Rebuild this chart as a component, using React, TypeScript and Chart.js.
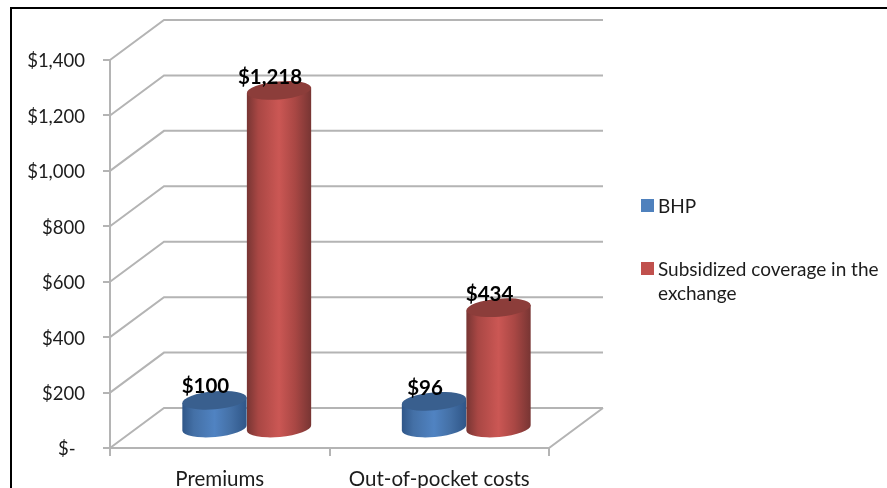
import React, { useEffect, useRef } from "react";
import { Chart, registerables } from "chart.js";

Chart.register(...registerables);

const categories = ["Premiums", "Out-of-pocket costs"];
const bhpValues = [100, 96];
const subsidizedValues = [1218, 434];
const seriesNames = ["BHP", "Subsidized coverage in the exchange"];
const legendLines = [["BHP"], ["Subsidized coverage in the", "exchange"]];
const valueLabels = [["$100", "$96"], ["$1,218", "$434"]];
const yTickLabels: Record<number, string> = {
  0: "$-\u00a0\u00a0",
  200: "$200",
  400: "$400",
  600: "$600",
  800: "$800",
  1000: "$1,000",
  1200: "$1,200",
  1400: "$1,400",
};

const DEPTH_X = 54;
const DEPTH_Y = 40;
const GRID = "#b4b4b4";
const FONT = "Lato, Carlito, sans-serif";
const palette = [
  { edge: "#2f5688", inner: "#4470a6", mid: "#5083c2", top: "#395f8e", swatch: "#4f81bd" },
  { edge: "#773533", inner: "#a94744", mid: "#cb5754", top: "#8c3d3a", swatch: "#c0504d" },
];

const wallsPlugin = {
  id: "walls",
  beforeDatasetsDraw(chart: any) {
    const { ctx, chartArea: a, scales } = chart;
    const y = scales.y;
    ctx.save();
    ctx.strokeStyle = GRID;
    ctx.lineWidth = 2;
    y.ticks.forEach((t: any) => {
      const py = y.getPixelForValue(t.value);
      ctx.beginPath();
      ctx.moveTo(a.left, py);
      ctx.lineTo(a.left + DEPTH_X, py - DEPTH_Y);
      ctx.lineTo(a.right + DEPTH_X, py - DEPTH_Y);
      ctx.stroke();
    });
    const b = y.getPixelForValue(0);
    ctx.beginPath();
    ctx.moveTo(a.right + DEPTH_X, b - DEPTH_Y);
    ctx.lineTo(a.right, b);
    ctx.lineTo(a.left, b);
    ctx.stroke();
    ctx.restore();
  },
};

const cylinderPlugin = {
  id: "cylinders",
  beforeDatasetDraw(chart: any, args: any) {
    const { ctx, scales } = chart;
    const meta = args.meta;
    const col = palette[args.index];
    const tilt = (-5 * Math.PI) / 180;
    meta.data.forEach((bar: any) => {
      const cx = bar.x + DEPTH_X / 2;
      const topY = bar.y - DEPTH_Y / 2;
      const baseY = scales.y.getPixelForValue(0) - DEPTH_Y / 2;
      const rx = bar.width / 2;
      const ry = 9;
      const dx = rx * Math.cos(tilt);
      const dy = rx * Math.sin(tilt);
      const grad = ctx.createLinearGradient(cx - rx, 0, cx + rx, 0);
      grad.addColorStop(0, col.edge);
      grad.addColorStop(0.18, col.inner);
      grad.addColorStop(0.5, col.mid);
      grad.addColorStop(0.75, col.inner);
      grad.addColorStop(1, col.edge);
      ctx.save();
      ctx.fillStyle = grad;
      ctx.beginPath();
      ctx.moveTo(cx - dx, topY - dy);
      ctx.lineTo(cx - dx, baseY - dy);
      ctx.ellipse(cx, baseY, rx, ry, tilt, Math.PI, 0, true);
      ctx.lineTo(cx + dx, topY + dy);
      ctx.closePath();
      ctx.fill();
      ctx.fillStyle = col.top;
      ctx.beginPath();
      ctx.ellipse(cx, topY, rx, ry, tilt, 0, Math.PI * 2);
      ctx.fill();
      ctx.restore();
    });
    return false;
  },
  afterDatasetsDraw(chart: any) {
    const { ctx } = chart;
    ctx.save();
    ctx.fillStyle = "#000";
    ctx.font = `bold 20.5px ${FONT}`;
    ctx.textAlign = "center";
    ctx.textBaseline = "middle";
    chart.data.datasets.forEach((_: any, i: number) => {
      chart.getDatasetMeta(i).data.forEach((bar: any, j: number) => {
        const cx = bar.x + DEPTH_X / 2 - 9;
        ctx.fillText(valueLabels[i][j], cx, bar.y - DEPTH_Y / 2 - 13.5);
      });
    });
    ctx.restore();
  },
};

const framePlugin = {
  id: "frameAndLegend",
  afterDraw(chart: any) {
    const { ctx } = chart;
    ctx.save();
    ctx.strokeStyle = "#000";
    ctx.lineWidth = 2;
    ctx.beginPath();
    ctx.moveTo(11, 488);
    ctx.lineTo(11, 8);
    ctx.lineTo(887, 8);
    ctx.stroke();
    const rows = [206, 269];
    ctx.font = `19px ${FONT}`;
    ctx.textBaseline = "middle";
    ctx.textAlign = "left";
    legendLines.forEach((lines, i) => {
      ctx.fillStyle = palette[i].swatch;
      ctx.fillRect(641, rows[i] - 7, 13, 13);
      ctx.fillStyle = "#1c1c1c";
      lines.forEach((line, k) => ctx.fillText(line, 658, rows[i] + 1 + k * 24));
    });
    ctx.restore();
  },
};

export default function App() {
  const ref = useRef<HTMLCanvasElement>(null);
  useEffect(() => {
    document.body.style.margin = "0";
    const chart = new Chart(ref.current!, {
      type: "bar",
      data: {
        labels: categories,
        datasets: [
          { label: seriesNames[0], data: bhpValues, backgroundColor: palette[0].swatch },
          { label: seriesNames[1], data: subsidizedValues, backgroundColor: palette[1].swatch },
        ],
      },
      options: {
        animation: false,
        responsive: false,
        devicePixelRatio: 1,
        layout: { padding: { left: 0, top: 60, right: 338, bottom: 0 } },
        datasets: { bar: { categoryPercentage: 0.588, barPercentage: 1 } },
        plugins: { legend: { display: false }, tooltip: { enabled: false } },
        scales: {
          x: {
            afterFit: (s: any) => { s.height = 40; },
            grid: { drawOnChartArea: false, offset: true, color: GRID, tickLength: 8, lineWidth: 2 },
            border: { color: GRID, width: 2 },
            ticks: { color: "#1c1c1c", font: { family: FONT, size: 20.5 }, padding: 11, maxRotation: 0 },
          },
          y: {
            min: 0,
            max: 1400,
            afterFit: (s: any) => { s.width = 110; },
            grid: { drawOnChartArea: false, color: GRID, tickLength: 7, lineWidth: 2 },
            border: { color: GRID, width: 2 },
            ticks: {
              stepSize: 200,
              color: "#1c1c1c",
              font: { family: FONT, size: 18.5 },
              padding: 18,
              labelOffset: 1.5,
              callback: (v: any) => yTickLabels[v],
            },
          },
        },
      },
      plugins: [wallsPlugin, cylinderPlugin, framePlugin],
    } as any);
    return () => chart.destroy();
  }, []);
  return (
    <canvas
      ref={ref}
      width={887}
      height={488}
      style={{ display: "block", width: 887, height: 488, filter: "blur(0.6px)" }}
    />
  );
}
